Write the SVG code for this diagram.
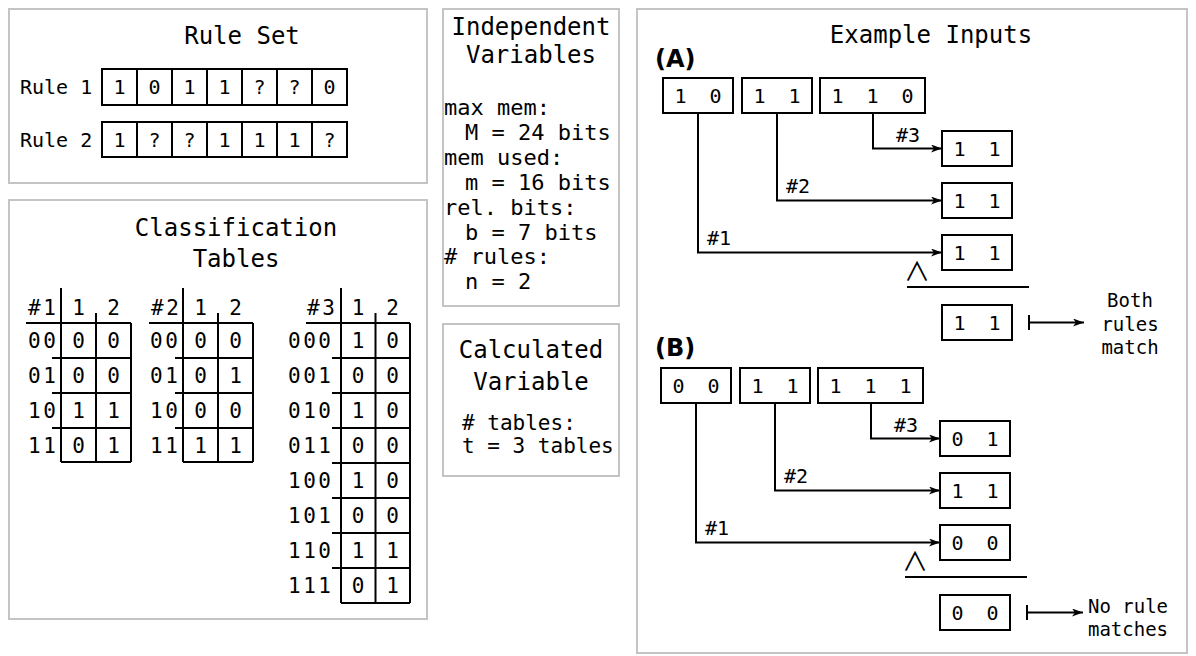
<svg xmlns="http://www.w3.org/2000/svg" width="1196" height="656" viewBox="0 0 1196 656">
<defs>
<style>
text{font-family:"DejaVu Sans Mono","Liberation Mono",monospace;fill:#000}
.panel{fill:#fff;stroke:#c4c4c4;stroke-width:2}
.box{fill:#fff;stroke:#000;stroke-width:2}
.ln{fill:none;stroke:#000;stroke-width:2}
.title{font-size:24px;text-anchor:middle}
.c{font-size:20px;text-anchor:middle}
.t{font-size:21px;text-anchor:middle}
.lab{font-size:20px}
.tl{font-size:21px;letter-spacing:2.5px}
.body{font-size:22px}
.small{font-size:19px;text-anchor:middle}
.and{font-family:"Noto Sans CJK SC","DejaVu Sans",sans-serif;font-weight:400;font-size:26px;text-anchor:middle}
.big{font-family:"DejaVu Sans",sans-serif;font-weight:bold;font-size:24px}
</style>
<marker id="arr" markerUnits="userSpaceOnUse" markerWidth="12" markerHeight="10" refX="11" refY="4" orient="auto">
<path d="M0,0 L11,4 L0,8 L3,4 z" fill="#000"/>
</marker>
</defs>
<rect width="1196" height="656" fill="#fff"/>

<g id="rule-set">
<rect class="panel" x="9" y="9" width="418" height="174"/>
<text class="title" x="242" y="44">Rule Set</text>
<text class="lab" x="20" y="94.3">Rule 1</text>
<text class="lab" x="20" y="147">Rule 2</text>
<g>
<rect class="box" x="102" y="69" width="35" height="36"/><rect class="box" x="137" y="69" width="35" height="36"/><rect class="box" x="172" y="69" width="35" height="36"/><rect class="box" x="207" y="69" width="35" height="36"/><rect class="box" x="242" y="69" width="35" height="36"/><rect class="box" x="277" y="69" width="35" height="36"/><rect class="box" x="312" y="69" width="35" height="36"/>
<rect class="box" x="102" y="122" width="35" height="35"/><rect class="box" x="137" y="122" width="35" height="35"/><rect class="box" x="172" y="122" width="35" height="35"/><rect class="box" x="207" y="122" width="35" height="35"/><rect class="box" x="242" y="122" width="35" height="35"/><rect class="box" x="277" y="122" width="35" height="35"/><rect class="box" x="312" y="122" width="35" height="35"/>
</g>
<g>
<text class="c" x="119.5" y="94.3">1</text><text class="c" x="154.5" y="94.3">0</text><text class="c" x="189.5" y="94.3">1</text><text class="c" x="224.5" y="94.3">1</text><text class="c" x="259.5" y="94.3">?</text><text class="c" x="294.5" y="94.3">?</text><text class="c" x="329.5" y="94.3">0</text>
<text class="c" x="119.5" y="147">1</text><text class="c" x="154.5" y="147">?</text><text class="c" x="189.5" y="147">?</text><text class="c" x="224.5" y="147">1</text><text class="c" x="259.5" y="147">1</text><text class="c" x="294.5" y="147">1</text><text class="c" x="329.5" y="147">?</text>
</g>
</g>

<g id="classification-tables">
<rect class="panel" x="9" y="200" width="418" height="419"/>
<text class="title" x="236" y="236">Classification</text>
<text class="title" x="236" y="267">Tables</text>
<g id="table-1">
<path class="ln" d="M61,288 V462 M96,313 V462 M131,323 V462 M26,323 H131 M52,358 H131 M52,393 H131 M52,428 H131 M61,462 H131"/>
<text class="tl" x="28" y="315">#1</text><text class="t" x="78.5" y="315">1</text><text class="t" x="113.5" y="315">2</text>
<text class="tl" x="28" y="348">00</text><text class="t" x="78.5" y="348">0</text><text class="t" x="113.5" y="348">0</text>
<text class="tl" x="28" y="383">01</text><text class="t" x="78.5" y="383">0</text><text class="t" x="113.5" y="383">0</text>
<text class="tl" x="28" y="418">10</text><text class="t" x="78.5" y="418">1</text><text class="t" x="113.5" y="418">1</text>
<text class="tl" x="28" y="453">11</text><text class="t" x="78.5" y="453">0</text><text class="t" x="113.5" y="453">1</text>
</g>
<g id="table-2">
<path class="ln" d="M183,288 V462 M218,313 V462 M253,323 V462 M149,323 H253 M175,358 H253 M175,393 H253 M175,428 H253 M183,462 H253"/>
<text class="tl" x="151" y="315">#2</text><text class="t" x="200.5" y="315">1</text><text class="t" x="235.5" y="315">2</text>
<text class="tl" x="150" y="348">00</text><text class="t" x="200.5" y="348">0</text><text class="t" x="235.5" y="348">0</text>
<text class="tl" x="150" y="383">01</text><text class="t" x="200.5" y="383">0</text><text class="t" x="235.5" y="383">1</text>
<text class="tl" x="150" y="418">10</text><text class="t" x="200.5" y="418">0</text><text class="t" x="235.5" y="418">0</text>
<text class="tl" x="150" y="453">11</text><text class="t" x="200.5" y="453">1</text><text class="t" x="235.5" y="453">1</text>
</g>
<g id="table-3">
<path class="ln" d="M341,288 V603 M375.5,313 V603 M410,323 V603 M306,323 H410 M332,358 H410 M332,393 H410 M332,428 H410 M332,463 H410 M332,498 H410 M332,533 H410 M332,568 H410 M341,603 H410"/>
<text class="tl" x="307" y="315">#3</text><text class="t" x="358" y="315">1</text><text class="t" x="392.5" y="315">2</text>
<text class="tl" x="288" y="348">000</text><text class="t" x="358" y="348">1</text><text class="t" x="392.5" y="348">0</text>
<text class="tl" x="288" y="383">001</text><text class="t" x="358" y="383">0</text><text class="t" x="392.5" y="383">0</text>
<text class="tl" x="288" y="418">010</text><text class="t" x="358" y="418">1</text><text class="t" x="392.5" y="418">0</text>
<text class="tl" x="288" y="453">011</text><text class="t" x="358" y="453">0</text><text class="t" x="392.5" y="453">0</text>
<text class="tl" x="288" y="488">100</text><text class="t" x="358" y="488">1</text><text class="t" x="392.5" y="488">0</text>
<text class="tl" x="288" y="523">101</text><text class="t" x="358" y="523">0</text><text class="t" x="392.5" y="523">0</text>
<text class="tl" x="288" y="558">110</text><text class="t" x="358" y="558">1</text><text class="t" x="392.5" y="558">1</text>
<text class="tl" x="288" y="593">111</text><text class="t" x="358" y="593">0</text><text class="t" x="392.5" y="593">1</text>
</g>
</g>

<g id="independent-variables">
<rect class="panel" x="443" y="9" width="176" height="297"/>
<text class="title" x="531" y="35">Independent</text>
<text class="title" x="531" y="63">Variables</text>
<text class="body" x="444" y="115">max mem:</text>
<text class="body" x="465" y="140">M = 24 bits</text>
<text class="body" x="444" y="165">mem used:</text>
<text class="body" x="465" y="190">m = 16 bits</text>
<text class="body" x="444" y="215">rel. bits:</text>
<text class="body" x="465" y="240">b = 7 bits</text>
<text class="body" x="444" y="264">&#35; rules:</text>
<text class="body" x="465" y="289">n = 2</text>
</g>

<g id="calculated-variable">
<rect class="panel" x="443" y="324" width="176" height="152"/>
<text class="title" x="531" y="358">Calculated</text>
<text class="title" x="531" y="390">Variable</text>
<text class="body" x="462" y="430" style="font-size:21px">&#35; tables:</text>
<text class="body" x="462" y="453" style="font-size:21px">t = 3 tables</text>
</g>

<g id="example-inputs">
<rect class="panel" x="637" y="9" width="550" height="644"/>
<text class="title" x="931" y="43">Example Inputs</text>
</g>

<g id="example-a">
<text class="big" x="655" y="67">(A)</text>
<g id="a-input-1"><rect class="box" x="663" y="78" width="70" height="35"/><text class="c" x="680.5" y="103">1</text><text class="c" x="715.5" y="103">0</text></g>
<g id="a-input-2"><rect class="box" x="742" y="78" width="70" height="35"/><text class="c" x="759.5" y="103">1</text><text class="c" x="794.5" y="103">1</text></g>
<g id="a-input-3"><rect class="box" x="820" y="78" width="105" height="35"/><text class="c" x="837.5" y="103">1</text><text class="c" x="872.5" y="103">1</text><text class="c" x="907.5" y="103">0</text></g>
<g id="a-out-3"><rect class="box" x="942" y="131" width="70" height="35"/><text class="c" x="959.5" y="156">1</text><text class="c" x="994.5" y="156">1</text></g>
<g id="a-out-2"><rect class="box" x="942" y="183" width="70" height="35"/><text class="c" x="959.5" y="208">1</text><text class="c" x="994.5" y="208">1</text></g>
<g id="a-out-1"><rect class="box" x="942" y="235" width="70" height="35"/><text class="c" x="959.5" y="260">1</text><text class="c" x="994.5" y="260">1</text></g>
<g id="a-and"><text class="and" x="917" y="281">∧</text><path class="ln" d="M907,287 H1029"/></g>
<g id="a-result"><rect class="box" x="942" y="305" width="70" height="35"/><text class="c" x="959.5" y="330">1</text><text class="c" x="994.5" y="330">1</text></g>
<g id="a-verdict"><text class="small" x="1130" y="307">Both</text><text class="small" x="1130" y="331">rules</text><text class="small" x="1130" y="354">match</text></g>
</g>

<g id="example-b">
<text class="big" x="655" y="356">(B)</text>
<g id="b-input-1"><rect class="box" x="661" y="368" width="70" height="35"/><text class="c" x="678.5" y="393">0</text><text class="c" x="713.5" y="393">0</text></g>
<g id="b-input-2"><rect class="box" x="740" y="368" width="70" height="35"/><text class="c" x="757.5" y="393">1</text><text class="c" x="792.5" y="393">1</text></g>
<g id="b-input-3"><rect class="box" x="818" y="368" width="105" height="35"/><text class="c" x="835.5" y="393">1</text><text class="c" x="870.5" y="393">1</text><text class="c" x="905.5" y="393">1</text></g>
<g id="b-out-3"><rect class="box" x="940" y="421" width="70" height="35"/><text class="c" x="957.5" y="446">0</text><text class="c" x="992.5" y="446">1</text></g>
<g id="b-out-2"><rect class="box" x="940" y="473" width="70" height="35"/><text class="c" x="957.5" y="498">1</text><text class="c" x="992.5" y="498">1</text></g>
<g id="b-out-1"><rect class="box" x="940" y="525" width="70" height="35"/><text class="c" x="957.5" y="550">0</text><text class="c" x="992.5" y="550">0</text></g>
<g id="b-and"><text class="and" x="915" y="571">∧</text><path class="ln" d="M905,577 H1027"/></g>
<g id="b-result"><rect class="box" x="940" y="595" width="70" height="35"/><text class="c" x="957.5" y="620">0</text><text class="c" x="992.5" y="620">0</text></g>
<g id="b-verdict"><text class="small" x="1128" y="613">No rule</text><text class="small" x="1128" y="636">matches</text></g>
</g>

<g id="connectors">
<path class="ln" d="M873,113 V148.5 H942" marker-end="url(#arr)"/>
<path class="ln" d="M777,113 V200.5 H942" marker-end="url(#arr)"/>
<path class="ln" d="M698,113 V252.5 H942" marker-end="url(#arr)"/>
<text class="c" x="908" y="142">#3</text>
<text class="c" x="798" y="193">#2</text>
<text class="c" x="719" y="245">#1</text>
<path class="ln" d="M1029,315 V330"/>
<path class="ln" d="M1029,322.5 H1084" marker-end="url(#arr)"/>

<path class="ln" d="M871,403 V438.5 H940" marker-end="url(#arr)"/>
<path class="ln" d="M775,403 V490.5 H940" marker-end="url(#arr)"/>
<path class="ln" d="M696,403 V542.5 H940" marker-end="url(#arr)"/>
<text class="c" x="906" y="432">#3</text>
<text class="c" x="796" y="483">#2</text>
<text class="c" x="717" y="535">#1</text>
<path class="ln" d="M1027,605 V620"/>
<path class="ln" d="M1027,612.5 H1083" marker-end="url(#arr)"/>
</g>
</svg>
